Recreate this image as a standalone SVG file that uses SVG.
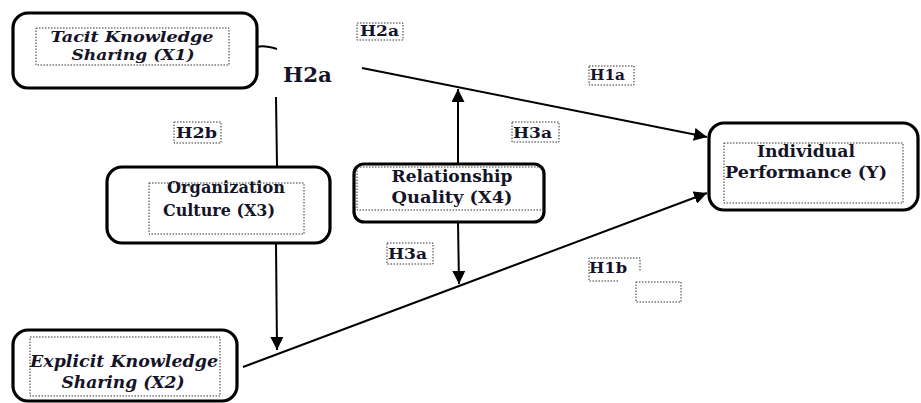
<svg xmlns="http://www.w3.org/2000/svg" width="921" height="403" viewBox="0 0 921 403">
<style>
.box{fill:#fff;stroke:#000;stroke-width:3.2}
.dot{fill:none;stroke:#333;stroke-width:1;stroke-dasharray:1.5 1.5}
.t{font-family:"DejaVu Serif Condensed","DejaVu Serif","Liberation Serif",serif;font-weight:bold;fill:#141428;font-size:16px;text-anchor:middle}
.it{font-style:italic}
.sm{font-size:14.5px}
.lbl{font-family:"DejaVu Serif Condensed","DejaVu Serif","Liberation Serif",serif;font-weight:bold;fill:#141428;font-size:14px}
.ln{fill:none;stroke:#000;stroke-width:2}
</style>
<defs>
<marker id="ah" viewBox="0 0 10 10" refX="10" refY="5" markerWidth="6.5" markerHeight="6.5" markerUnits="strokeWidth" orient="auto">
<path d="M0,0 L10,5 L0,10 Z" fill="#000"/>
</marker>
</defs>
<rect width="921" height="403" fill="#fff"/>
<g id="connectors">
<path class="ln" d="M257,47 Q264,45 277,49"/>
<line class="ln" x1="276" y1="97" x2="277" y2="166"/>
<line class="ln" x1="276" y1="243" x2="277" y2="350" marker-end="url(#ah)"/>
<line class="ln" x1="362" y1="68" x2="707" y2="137" marker-end="url(#ah)"/>
<line class="ln" x1="243" y1="367" x2="707" y2="193" marker-end="url(#ah)"/>
<line class="ln" x1="458" y1="163" x2="458" y2="89" marker-end="url(#ah)"/>
<line class="ln" x1="458" y1="222" x2="459" y2="284" marker-end="url(#ah)"/>
</g>
<g id="tacit">
<rect class="box" x="13" y="13" width="244" height="75" rx="15"/>
<rect class="dot" x="36" y="28" width="193" height="37"/>
<text class="t it sm" x="132" y="42" textLength="163" lengthAdjust="spacingAndGlyphs">Tacit Knowledge</text>
<text class="t it sm" x="133" y="60" textLength="123" lengthAdjust="spacingAndGlyphs">Sharing (X1)</text>
</g>
<g id="org">
<rect class="box" x="107" y="167" width="223" height="76" rx="15"/>
<rect class="dot" x="149" y="183" width="155" height="51"/>
<text class="t" x="226" y="193" textLength="118" lengthAdjust="spacingAndGlyphs">Organization</text>
<text class="t" x="219" y="216" textLength="112" lengthAdjust="spacingAndGlyphs">Culture (X3)</text>
</g>
<g id="explicit">
<rect class="box" x="13" y="330" width="224" height="71" rx="15"/>
<rect class="dot" x="30" y="337" width="190" height="59"/>
<text class="t it" x="124" y="367" textLength="188" lengthAdjust="spacingAndGlyphs">Explicit Knowledge</text>
<text class="t it" x="123" y="388" textLength="123" lengthAdjust="spacingAndGlyphs">Sharing (X2)</text>
</g>
<g id="relationship">
<rect class="box" x="354" y="164" width="190" height="58" rx="10"/>
<rect class="dot" x="357" y="167" width="186" height="43"/>
<text class="t" x="452" y="182" textLength="121" lengthAdjust="spacingAndGlyphs">Relationship</text>
<text class="t" x="452" y="203" textLength="121" lengthAdjust="spacingAndGlyphs">Quality (X4)</text>
</g>
<g id="individual">
<rect class="box" x="709" y="123" width="209" height="87" rx="15"/>
<rect class="dot" x="724" y="143" width="179" height="60"/>
<text class="t" x="806" y="157" textLength="98" lengthAdjust="spacingAndGlyphs">Individual</text>
<text class="t" x="806" y="178" textLength="162" lengthAdjust="spacingAndGlyphs">Performance (Y)</text>
</g>
<g id="labels">
<text class="lbl" x="283" y="82" style="font-size:20px" textLength="49" lengthAdjust="spacingAndGlyphs">H2a</text>
<rect class="dot" x="357" y="23" width="46" height="17"/>
<text class="lbl" x="360" y="36" textLength="39" lengthAdjust="spacingAndGlyphs">H2a</text>
<rect class="dot" x="589" y="66" width="45" height="19"/>
<text class="lbl" x="590" y="80" textLength="35" lengthAdjust="spacingAndGlyphs">H1a</text>
<rect class="dot" x="174" y="122" width="47" height="21"/>
<text class="lbl" x="176" y="138" textLength="41" lengthAdjust="spacingAndGlyphs">H2b</text>
<rect class="dot" x="512" y="122" width="47" height="20"/>
<text class="lbl" x="513" y="138" textLength="39" lengthAdjust="spacingAndGlyphs">H3a</text>
<rect class="dot" x="387" y="243" width="46" height="21"/>
<text class="lbl" x="388" y="259" textLength="39" lengthAdjust="spacingAndGlyphs">H3a</text>
<path class="dot" d="M618,281 L589,281 L589,258 L640,258 L640,272"/>
<text class="lbl" x="589" y="273" textLength="38" lengthAdjust="spacingAndGlyphs">H1b</text>
<rect class="dot" x="636" y="282" width="45" height="20"/>
</g>
</svg>
